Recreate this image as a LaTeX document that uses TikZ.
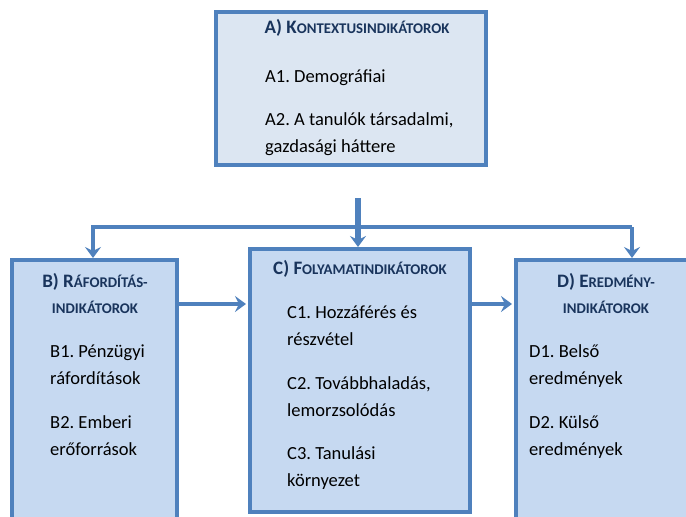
\documentclass[tikz,border=0pt]{standalone}
\usepackage{fontspec}
\setmainfont{Carlito}
\usepackage{xcolor}
\usetikzlibrary{arrows.meta}
\definecolor{boxblue}{RGB}{79,129,189}
\definecolor{fillblue}{RGB}{198,217,241}
\definecolor{paleblue}{RGB}{220,230,242}
\definecolor{headblue}{RGB}{25,52,92}
\newcommand{\smcp}[1]{{\fontsize{14.8}{26}\selectfont #1}}
\frenchspacing

\begin{document}
\begin{tikzpicture}[x=1pt, y=-1pt]
% Define styles
\tikzstyle{box} = [rectangle, draw=boxblue, line width=4pt, fill=fillblue, inner sep=0pt]
\tikzstyle{head} = [anchor=base, align=center, inner sep=0pt, text=headblue, font=\bfseries\fontsize{19}{26}\selectfont]
\tikzstyle{item} = [anchor=base west, align=left, inner sep=0pt, font=\fontsize{18.5}{26.5}\selectfont]
\tikzstyle{arrow} = [draw=boxblue, line width=3.5pt, -{Stealth[length=11pt, width=16pt, inset=4pt]}]

\useasboundingbox (0,0) rectangle (686,517);
\clip (0,0) rectangle (686,517);

% Place nodes
\node [box, fill=paleblue, minimum width=270pt, minimum height=153pt] (ctx) at (351,88.5) {};
\node [box, minimum width=165pt, minimum height=300pt] (input) at (94.5,410) {};
\node [box, minimum width=220pt, minimum height=263pt] (process) at (360,380.5) {};
\node [box, minimum width=181pt, minimum height=300pt] (output) at (606.5,410) {};

% base of a multi-line node is its last line
\node [head] (ctxhead) at (357,33) {A) K\smcp{ONTEXTUSINDIKÁTOROK}};
\node [item] (ctxa) at (265,82) {A1. Demográfiai};
\node [item] (ctxb) at (265,152) {A2. A tanulók társadalmi,\\gazdasági háttere};

\node [head] (inputhead) at (95,313) {B) R\smcp{ÁFORDÍTÁS-}\\\smcp{INDIKÁTOROK}};
\node [item] (inputa) at (50,384) {B1. Pénzügyi\\ráfordítások};
\node [item] (inputb) at (50,455) {B2. Emberi\\erőforrások};

\node [head] (processhead) at (360,274) {C) F\smcp{OLYAMATINDIKÁTOROK}};
\node [item] (processa) at (287,345) {C1. Hozzáférés és\\részvétel};
\node [item] (processb) at (287,416) {C2. Továbbhaladás,\\lemorzsolódás};
\node [item] (processc) at (287,486) {C3. Tanulási\\környezet};

\node [head] (outputhead) at (606,313) {D) E\smcp{REDMÉNY-}\\\smcp{INDIKÁTOROK}};
\node [item] (outputa) at (529,384) {D1. Belső\\eredmények};
\node [item] (outputb) at (529,455) {D2. Külső\\eredmények};

\coordinate (split) at (358,198);
\coordinate (busB) at (93,227);
\coordinate (busD) at (632,227);
\coordinate (flow) at (0,304);

% Draw arrows
\draw [arrow, line width=5.5pt] (split) -- (process.north -| split);
\draw [arrow, line width=3.5pt] (busD) -- (busB) -- (input.north -| busB);
\draw [arrow] (busB -| busD) -- (output.north -| busD);
\draw [arrow, shorten >=2pt] (input.east |- flow) -- (process.west |- flow);
\draw [arrow, shorten >=2pt] (process.east |- flow) -- (output.west |- flow);
\end{tikzpicture}
\end{document}
